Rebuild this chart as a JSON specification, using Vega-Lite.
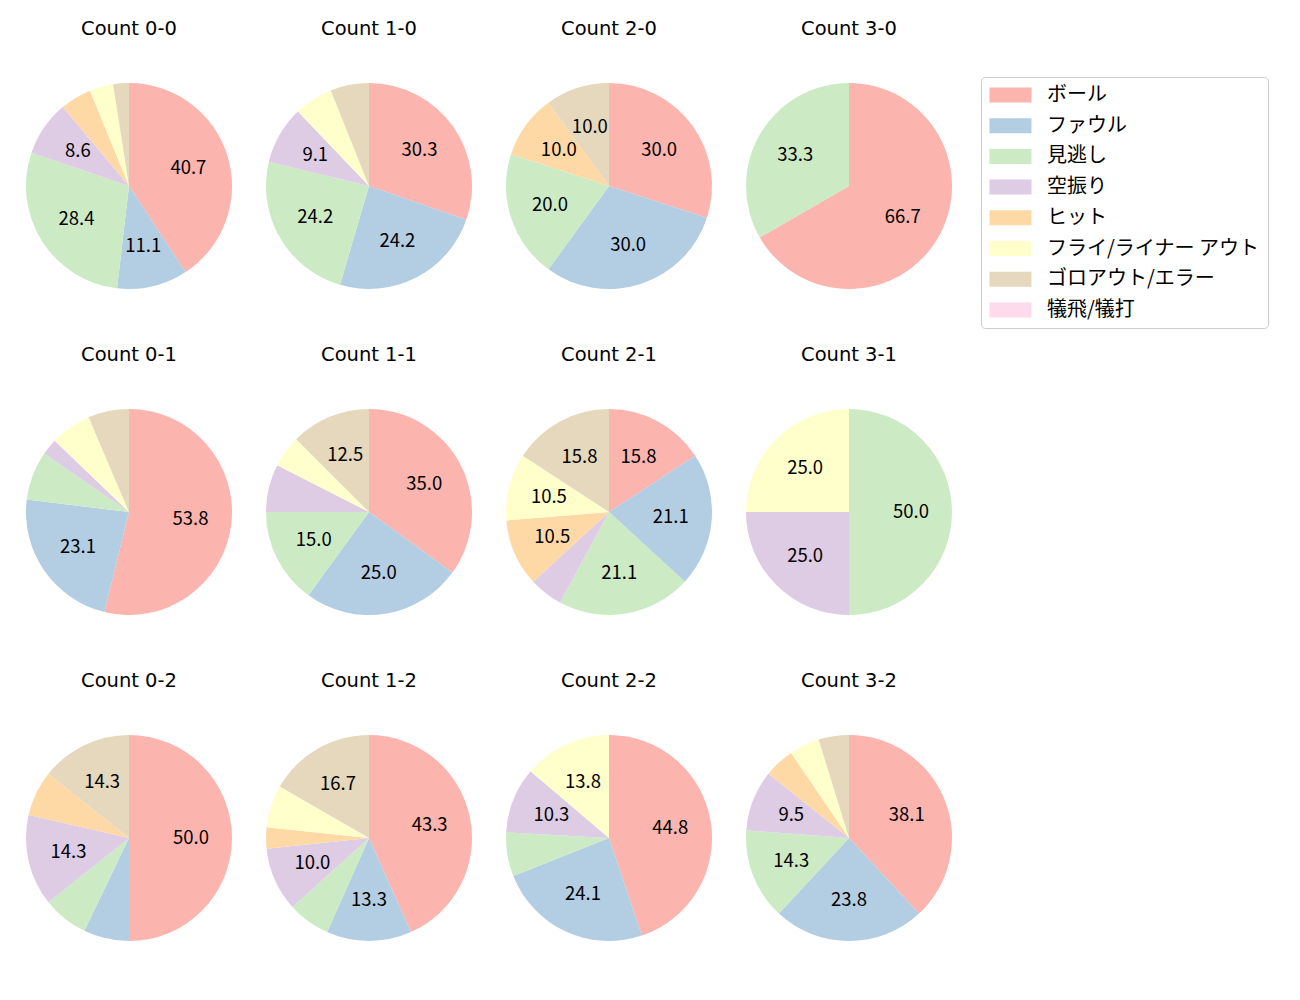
{
  "$schema": "https://vega.github.io/schema/vega-lite/v6.json",
  "padding": {"left": 14, "top": 18, "right": 5, "bottom": 5},
  "config": {"view": {"stroke": null}, "font": "Noto Sans CJK JP"},
  "data": {"values": [
    {"c": "Count 0-0", "k": "ボール", "n": 33},
    {"c": "Count 0-0", "k": "ファウル", "n": 9},
    {"c": "Count 0-0", "k": "見逃し", "n": 23},
    {"c": "Count 0-0", "k": "空振り", "n": 7},
    {"c": "Count 0-0", "k": "ヒット", "n": 4},
    {"c": "Count 0-0", "k": "フライ/ライナー アウト", "n": 3},
    {"c": "Count 0-0", "k": "ゴロアウト/エラー", "n": 2},
    {"c": "Count 1-0", "k": "ボール", "n": 10},
    {"c": "Count 1-0", "k": "ファウル", "n": 8},
    {"c": "Count 1-0", "k": "見逃し", "n": 8},
    {"c": "Count 1-0", "k": "空振り", "n": 3},
    {"c": "Count 1-0", "k": "フライ/ライナー アウト", "n": 2},
    {"c": "Count 1-0", "k": "ゴロアウト/エラー", "n": 2},
    {"c": "Count 2-0", "k": "ボール", "n": 3},
    {"c": "Count 2-0", "k": "ファウル", "n": 3},
    {"c": "Count 2-0", "k": "見逃し", "n": 2},
    {"c": "Count 2-0", "k": "ヒット", "n": 1},
    {"c": "Count 2-0", "k": "ゴロアウト/エラー", "n": 1},
    {"c": "Count 3-0", "k": "ボール", "n": 2},
    {"c": "Count 3-0", "k": "見逃し", "n": 1},
    {"c": "Count 0-1", "k": "ボール", "n": 42},
    {"c": "Count 0-1", "k": "ファウル", "n": 18},
    {"c": "Count 0-1", "k": "見逃し", "n": 6},
    {"c": "Count 0-1", "k": "空振り", "n": 2},
    {"c": "Count 0-1", "k": "フライ/ライナー アウト", "n": 5},
    {"c": "Count 0-1", "k": "ゴロアウト/エラー", "n": 5},
    {"c": "Count 1-1", "k": "ボール", "n": 14},
    {"c": "Count 1-1", "k": "ファウル", "n": 10},
    {"c": "Count 1-1", "k": "見逃し", "n": 6},
    {"c": "Count 1-1", "k": "空振り", "n": 3},
    {"c": "Count 1-1", "k": "フライ/ライナー アウト", "n": 2},
    {"c": "Count 1-1", "k": "ゴロアウト/エラー", "n": 5},
    {"c": "Count 2-1", "k": "ボール", "n": 3},
    {"c": "Count 2-1", "k": "ファウル", "n": 4},
    {"c": "Count 2-1", "k": "見逃し", "n": 4},
    {"c": "Count 2-1", "k": "空振り", "n": 1},
    {"c": "Count 2-1", "k": "ヒット", "n": 2},
    {"c": "Count 2-1", "k": "フライ/ライナー アウト", "n": 2},
    {"c": "Count 2-1", "k": "ゴロアウト/エラー", "n": 3},
    {"c": "Count 3-1", "k": "見逃し", "n": 2},
    {"c": "Count 3-1", "k": "空振り", "n": 1},
    {"c": "Count 3-1", "k": "フライ/ライナー アウト", "n": 1},
    {"c": "Count 0-2", "k": "ボール", "n": 7},
    {"c": "Count 0-2", "k": "ファウル", "n": 1},
    {"c": "Count 0-2", "k": "見逃し", "n": 1},
    {"c": "Count 0-2", "k": "空振り", "n": 2},
    {"c": "Count 0-2", "k": "ヒット", "n": 1},
    {"c": "Count 0-2", "k": "ゴロアウト/エラー", "n": 2},
    {"c": "Count 1-2", "k": "ボール", "n": 13},
    {"c": "Count 1-2", "k": "ファウル", "n": 4},
    {"c": "Count 1-2", "k": "見逃し", "n": 2},
    {"c": "Count 1-2", "k": "空振り", "n": 3},
    {"c": "Count 1-2", "k": "ヒット", "n": 1},
    {"c": "Count 1-2", "k": "フライ/ライナー アウト", "n": 2},
    {"c": "Count 1-2", "k": "ゴロアウト/エラー", "n": 5},
    {"c": "Count 2-2", "k": "ボール", "n": 13},
    {"c": "Count 2-2", "k": "ファウル", "n": 7},
    {"c": "Count 2-2", "k": "見逃し", "n": 2},
    {"c": "Count 2-2", "k": "空振り", "n": 3},
    {"c": "Count 2-2", "k": "フライ/ライナー アウト", "n": 4},
    {"c": "Count 3-2", "k": "ボール", "n": 8},
    {"c": "Count 3-2", "k": "ファウル", "n": 5},
    {"c": "Count 3-2", "k": "見逃し", "n": 3},
    {"c": "Count 3-2", "k": "空振り", "n": 2},
    {"c": "Count 3-2", "k": "ヒット", "n": 1},
    {"c": "Count 3-2", "k": "フライ/ライナー アウト", "n": 1},
    {"c": "Count 3-2", "k": "ゴロアウト/エラー", "n": 1}
  ]},
  "transform": [
    {"joinaggregate": [{"op": "sum", "field": "n", "as": "tot"}], "groupby": ["c"]},
    {"calculate": "datum.n / datum.tot * 100", "as": "pct"},
    {"calculate": "indexof(['ボール','ファウル','見逃し','空振り','ヒット','フライ/ライナー アウト','ゴロアウト/エラー','犠飛/犠打'], datum.k)", "as": "o"}
  ],
  "facet": {
    "field": "c", "type": "nominal",
    "sort": ["Count 0-0","Count 1-0","Count 2-0","Count 3-0","Count 0-1","Count 1-1","Count 2-1","Count 3-1","Count 0-2","Count 1-2","Count 2-2","Count 3-2"],
    "header": {"title": null, "labelFontSize": 19.5, "labelFont": "DejaVu Sans", "labelColor": "#000000", "labelPadding": 32}
  },
  "columns": 4,
  "spacing": {"column": 10, "row": 43},
  "spec": {
    "width": 230,
    "height": 230,
    "layer": [
      {
        "mark": {"type": "arc", "outerRadius": 103},
        "encoding": {
          "theta": {"field": "n", "type": "quantitative", "stack": true},
          "order": {"field": "o", "type": "quantitative"},
          "color": {
            "field": "k", "type": "nominal",
            "scale": {
              "domain": ["ボール","ファウル","見逃し","空振り","ヒット","フライ/ライナー アウト","ゴロアウト/エラー","犠飛/犠打"],
              "range": ["#fbb4ae","#b3cde3","#ccebc5","#decbe4","#fed9a6","#ffffcc","#e5d8bd","#fddaec"]
            },
            "legend": {
              "title": null, "orient": "none", "legendX": 967, "legendY": 6,
              "symbolType": "M-1.27,-1H4.33V1H-1.27Z", "symbolSize": 225, "symbolStrokeWidth": 0, "symbolOpacity": 1,
              "labelFontSize": 20, "labelFont": "Noto Sans CJK JP", "labelColor": "#000000", "labelOffset": 38, "labelLimit": 400,
              "strokeColor": "#cccccc", "cornerRadius": 4, "padding": 8, "fillColor": "#ffffff", "rowPadding": 10.7
            }
          }
        }
      },
      {
        "mark": {"type": "text", "radius": 62, "fontSize": 18.5, "font": "Noto Sans CJK JP", "color": "#000000"},
        "encoding": {
          "theta": {"field": "n", "type": "quantitative", "stack": true},
          "order": {"field": "o", "type": "quantitative"},
          "text": {"condition": {"test": "datum.pct >= 8", "field": "pct", "type": "quantitative", "format": ".1f"}, "value": ""}
        }
      }
    ]
  }
}
